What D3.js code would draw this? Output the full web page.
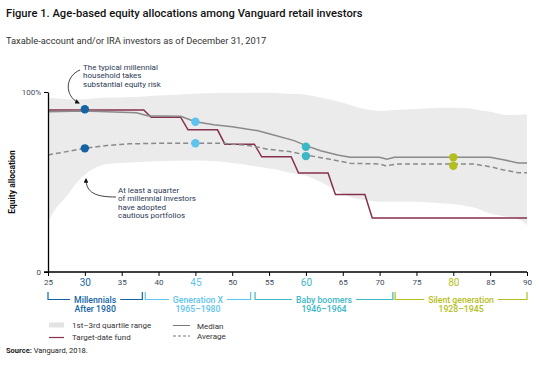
<!DOCTYPE html>
<html>
<head>
<meta charset="utf-8">
<script src="https://cdn.jsdelivr.net/npm/d3@7"></script>
<style>
  body { margin: 0; background: #fff; }
  text { font-family: Roboto, "Liberation Sans", sans-serif; }
</style>
</head>
<body>
<div id="chart"></div>
<script>
// quartile band (1st-3rd)
const bandAges = [25, 26, 27.5, 29, 30, 31.5, 33, 35, 40, 45, 48, 50, 52, 55, 56, 58, 60, 62, 65, 67, 68, 70, 72, 75, 79, 80, 82, 83, 85, 87.5, 89, 90];
const bandLow  = [28, 35, 42, 50, 54, 58, 60, 60.5, 61.5, 62, 61.5, 60.5, 59.5, 57.5, 57, 55, 53.5, 50, 43.5, 40.5, 40, 39, 39, 39, 38, 37.8, 36.5, 35.5, 32.5, 30.5, 29, 26];
const bandHigh = [97, 96.5, 96, 96, 96, 96.5, 97, 97, 98, 99, 99.5, 99.5, 99.5, 99.6, 99.5, 99, 98.5, 97, 94, 91.5, 90.5, 89.4, 90, 90.5, 91.2, 91.3, 91, 90.3, 89, 87.2, 87.4, 87.6];

// median
const medianAges = [25, 30, 33, 37, 38.5, 43, 45, 47.5, 50, 53.5, 55.5, 58.4, 60, 62, 64.3, 66, 70, 71, 72, 85, 86.8, 88.8, 90];
const medianVals = [89, 89.5, 89, 88.5, 86.8, 86.5, 83.5, 81.8, 80.7, 78.5, 76.3, 73, 70.2, 67.4, 65, 63.7, 63.7, 62.6, 63.7, 63.7, 62.4, 60.6, 60.6];

// average
const avgAges = [25, 27, 30, 33, 36, 40, 48.8, 52.4, 55, 57.8, 60, 63.3, 66, 70, 70.8, 72.3, 82.7, 85, 86.8, 88.8, 90];
const avgVals = [65, 66.5, 68.7, 70.3, 71.2, 71.5, 71.5, 70.2, 68.1, 66.9, 65, 62.6, 60.4, 60, 59, 60, 60, 58.5, 56.7, 55.2, 55.2];

// target-date fund glide path
const tdfAges = [25, 38, 39, 43, 44, 48, 49, 53, 54, 58, 59, 63, 64, 68, 69, 90];
const tdfVals = [90, 90, 86, 86, 79, 79, 71, 71, 64, 64, 55, 55, 43, 43, 30, 30];

// highlighted generation points
const dotAges = [30, 45, 60, 80];
const dotMedian = [90.4, 83.5, 69.6, 63.7];
const dotAverage = [68.7, 71.5, 64.4, 59.0];

const genNames = ["Millennials", "Generation X", "Baby boomers", "Silent generation"];
const genYears = ["After 1980", "1965\u20131980", "1946\u20131964", "1928\u20131945"];
const genStart = [25, 38.2, 53.1, 72.1];
const genEnd = [37.8, 52.5, 71.8, 90];
const genColors = ["#1464a5", "#5ec4ee", "#3bb7c6", "#b4be1c"];

const xTicks = d3.range(25, 91, 5);

const width = 539, height = 373;
const svg = d3.select('#chart').append('svg')
    .attr('width', width)
    .attr('height', height);

svg.append('rect').attr('width', width).attr('height', height).attr('fill', '#fff');

const x = d3.scaleLinear().domain([25, 90]).range([48, 527]);
const y = d3.scaleLinear().domain([0, 100]).range([272, 92]);

// titles
svg.append('text')
    .attr('x', 6).attr('y', 17)
    .attr('font-size', 11.2).attr('font-weight', 500).attr('fill', '#111')
    .text('Figure 1. Age-based equity allocations among Vanguard retail investors');
svg.append('text')
    .attr('x', 6).attr('y', 44)
    .attr('font-size', 9.3).attr('fill', '#333')
    .text('Taxable-account and/or IRA investors as of December 31, 2017');

// band
const area = d3.area()
    .x((d, i) => x(bandAges[i]))
    .y0((d, i) => y(bandLow[i]))
    .y1((d, i) => y(bandHigh[i]))
    .curve(d3.curveMonotoneX);
svg.append('path')
    .datum(bandAges)
    .attr('d', area)
    .attr('fill', '#ebebeb');

const line = d3.line().x(d => x(d[0])).y(d => y(d[1]));

// target-date fund
svg.append('path')
    .datum(tdfAges.map((a, i) => [a, tdfVals[i]]))
    .attr('d', line)
    .attr('fill', 'none')
    .attr('stroke', '#86304f')
    .attr('stroke-width', 1.5);

// median
svg.append('path')
    .datum(medianAges.map((a, i) => [a, medianVals[i]]))
    .attr('d', line)
    .attr('fill', 'none')
    .attr('stroke', '#8a8a8a')
    .attr('stroke-width', 1.5);

// average
svg.append('path')
    .datum(avgAges.map((a, i) => [a, avgVals[i]]))
    .attr('d', line)
    .attr('fill', 'none')
    .attr('stroke', '#8a8a8a')
    .attr('stroke-width', 1.5)
    .attr('stroke-dasharray', '5,3');

// dots
dotAges.forEach((a, i) => {
    svg.append('circle').attr('cx', x(a)).attr('cy', y(dotMedian[i])).attr('r', 4.2).attr('fill', genColors[i]);
    svg.append('circle').attr('cx', x(a)).attr('cy', y(dotAverage[i])).attr('r', 4.2).attr('fill', genColors[i]);
});

// axes
const xAxis = svg.append('g')
    .attr('transform', `translate(0,${y(0)})`)
    .call(d3.axisBottom(x).tickValues(xTicks).tickSize(4).tickSizeOuter(0));
xAxis.select('.domain').remove();
xAxis.append('line')
    .attr('x1', 44).attr('x2', x(90))
    .attr('stroke', '#000').attr('stroke-width', 1.3);
xAxis.selectAll('.tick line').attr('stroke', '#000');
xAxis.selectAll('.tick text')
    .attr('y', 7)
    .attr('font-family', 'Roboto, sans-serif')
    .attr('font-size', d => dotAges.includes(d) ? 10 : 8)
    .attr('fill', d => dotAges.includes(d) ? genColors[dotAges.indexOf(d)] : '#3d4a5c');

const yAxis = svg.append('g')
    .attr('transform', `translate(${x(25)},0)`)
    .call(d3.axisLeft(y).tickValues([0, 100]).tickFormat(d => d === 100 ? '100%' : '0').tickSize(4).tickSizeOuter(0));
yAxis.select('.domain').attr('stroke', '#000').attr('stroke-width', 1.3);
yAxis.selectAll('.tick line').attr('stroke', '#000');
yAxis.selectAll('.tick text')
    .attr('font-family', 'Roboto, sans-serif')
    .attr('font-size', 8)
    .attr('fill', '#3d4a5c');

svg.append('text')
    .attr('transform', `translate(15,${y(50)}) rotate(-90)`)
    .attr('text-anchor', 'middle')
    .attr('font-size', 8.5).attr('font-weight', 'bold').attr('fill', '#111')
    .text('Equity allocation');

// generation brackets
genNames.forEach((name, i) => {
    const x0 = x(genStart[i]), x1 = x(genEnd[i]);
    const cx = (x0 + x1) / 2;
    const c = genColors[i];
    const t = svg.append('text')
        .attr('x', cx).attr('y', 302.5)
        .attr('text-anchor', 'middle')
        .attr('font-size', 8.7).attr('font-weight', 500).attr('fill', c)
        .text(name);
    svg.append('text')
        .attr('x', cx).attr('y', 312)
        .attr('text-anchor', 'middle')
        .attr('font-size', 8.7).attr('font-weight', 500).attr('fill', c)
        .text(genYears[i]);
    const half = t.node().getComputedTextLength() / 2 + 4;
    svg.append('path')
        .attr('d', `M${x0},292V299.5H${cx - half}M${cx + half},299.5H${x1}V292`)
        .attr('fill', 'none').attr('stroke', c).attr('stroke-width', 1.2);
});

// annotations
const defs = svg.append('defs');
defs.append('marker')
    .attr('id', 'arrow')
    .attr('viewBox', '0 0 10 10')
    .attr('refX', 8).attr('refY', 5)
    .attr('markerWidth', 6).attr('markerHeight', 6)
    .attr('orient', 'auto')
    .append('path').attr('d', 'M0,0L10,5L0,10z').attr('fill', '#111');

const note1 = ['The typical millennial', 'household takes', 'substantial equity risk'];
note1.forEach((s, i) => {
    svg.append('text').attr('x', 83).attr('y', 69.5 + i * 8.8)
        .attr('font-size', 8).attr('fill', '#2b3a55').text(s);
});
svg.append('path')
    .attr('d', 'M80,70 C65,76 64,96 79,103')
    .attr('fill', 'none').attr('stroke', '#111').attr('stroke-width', 0.8)
    .attr('marker-end', 'url(#arrow)');

const note2 = ['At least a quarter', 'of millennial investors', 'have adopted', 'cautious portfolios'];
note2.forEach((s, i) => {
    svg.append('text').attr('x', 118).attr('y', 192.5 + i * 8.6)
        .attr('font-size', 8).attr('fill', '#2b3a55').text(s);
});
svg.append('path')
    .attr('d', 'M116,197 C96,197 86,193 86,179')
    .attr('fill', 'none').attr('stroke', '#111').attr('stroke-width', 0.8)
    .attr('marker-end', 'url(#arrow)');

// legend
const lg = svg.append('g');
lg.append('rect').attr('x', 49).attr('y', 322.5).attr('width', 15).attr('height', 5).attr('fill', '#e3e3e3');
lg.append('text').attr('x', 72).attr('y', 328).attr('font-size', 8).attr('fill', '#333').text('1st\u20133rd quartile range');
lg.append('line').attr('x1', 49).attr('x2', 64).attr('y1', 337.5).attr('y2', 337.5).attr('stroke', '#86304f').attr('stroke-width', 1.2);
lg.append('text').attr('x', 72).attr('y', 340).attr('font-size', 8).attr('fill', '#333').text('Target-date fund');
lg.append('line').attr('x1', 173).attr('x2', 190).attr('y1', 325.5).attr('y2', 325.5).attr('stroke', '#777').attr('stroke-width', 1);
lg.append('text').attr('x', 197).attr('y', 328.5).attr('font-size', 8).attr('fill', '#333').text('Median');
lg.append('line').attr('x1', 173).attr('x2', 190).attr('y1', 336).attr('y2', 336).attr('stroke', '#777').attr('stroke-width', 1).attr('stroke-dasharray', '3,2');
lg.append('text').attr('x', 197).attr('y', 339).attr('font-size', 8).attr('fill', '#333').text('Average');

const src = svg.append('text').attr('x', 6).attr('y', 353).attr('font-size', 7.5).attr('fill', '#222');
src.append('tspan').attr('font-weight', 'bold').text('Source: ');
src.append('tspan').text('Vanguard, 2018.');
</script>
</body>
</html>
